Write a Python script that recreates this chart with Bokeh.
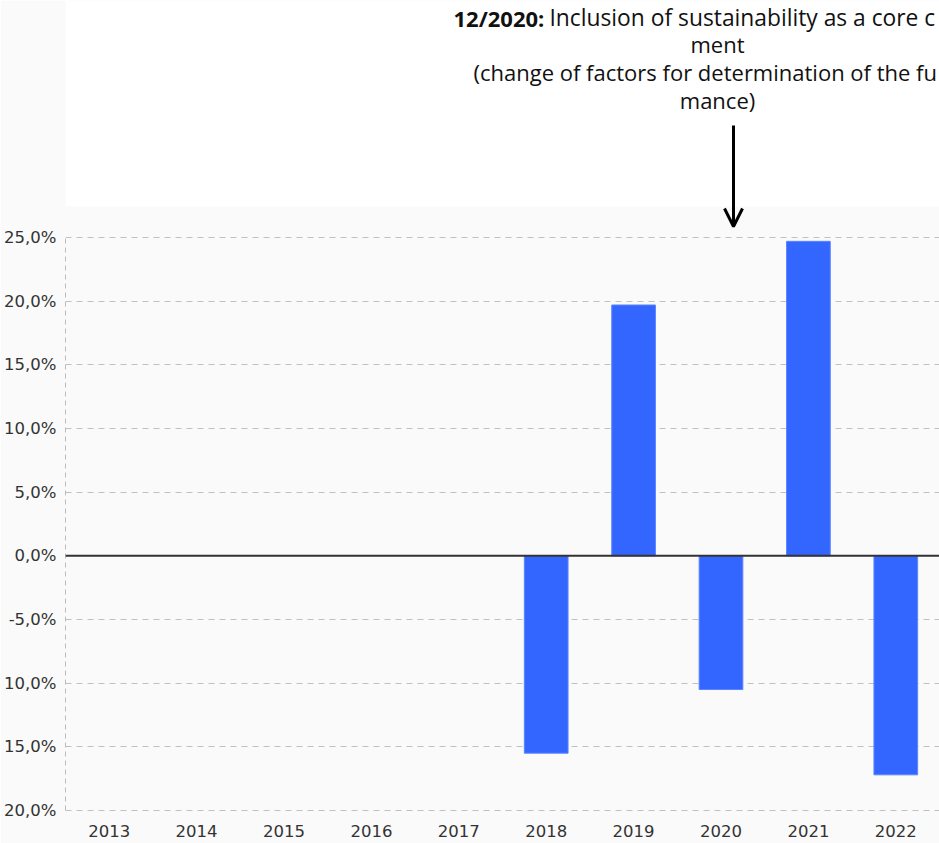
from bokeh.plotting import figure
from bokeh.models import Range1d, FixedTicker, Span, Label, Arrow, OpenHead, BoxAnnotation
from bokeh.embed import file_html
from bokeh.resources import INLINE

# ---- data ----
years = [2013, 2014, 2015, 2016, 2017, 2018, 2019, 2020, 2021, 2022]
year_labels = ["2013", "2014", "2015", "2016", "2017", "2018", "2019", "2020", "2021", "2022"]
bar_years = [2018, 2019, 2020, 2021, 2022]
bar_values = [-15.5, 19.7, -10.5, 24.7, -17.2]
y_ticks = [25, 20, 15, 10, 5, 0, -5, -10, -15, -20]
y_tick_labels = ["25,0%", "20,0%", "15,0%", "10,0%", "5,0%", "0,0%", "-5,0%", "10,0%", "15,0%", "20,0%"]

note_bold = "12/2020:"
note_line1 = "Inclusion of sustainability as a core c"
note_line2 = "ment"
note_line3 = "(change of factors for determination of the fu"
note_line4 = "mance)"

# ---- layout helpers (page pixel -> data) ----
PX_PER_PCT = 12.733
PX_PER_YEAR = 87.4
def yd(py):
    return 25 + (237 - py) / PX_PER_PCT
def xd(px):
    return 2012.5 + (px - 65) / PX_PER_YEAR

p = figure(width=939, height=843, output_backend="svg", toolbar_location=None,
           x_range=Range1d(2012.5, 2022.5), y_range=Range1d(yd(813), yd(0)),
           min_border_left=65, min_border_right=0, min_border_top=0, min_border_bottom=30)
p.outline_line_color = None
p.background_fill_color = "#fafafa"
p.border_fill_color = "#fafafa"

# white area above the chart panel
p.add_layout(BoxAnnotation(bottom=yd(206), fill_color="white", fill_alpha=1.0, line_color=None, level="underlay"))

p.vbar(x=bar_years, top=bar_values, bottom=0, width=0.5,
       fill_color="#3366ff", line_color="#5b84ff", line_width=1)

# axes
p.yaxis.ticker = FixedTicker(ticks=y_ticks)
p.yaxis.major_label_overrides = {t: l for t, l in zip(y_ticks, y_tick_labels)}
p.yaxis.bounds = (-20, 25)
p.yaxis.axis_line_color = "#bbbbbb"
p.yaxis.axis_line_dash = "5 4"
p.yaxis.major_tick_line_color = None
p.yaxis.minor_tick_line_color = None
p.yaxis.major_label_standoff = 3
p.yaxis.major_label_text_font = "DejaVu Sans"
p.yaxis.major_label_text_font_size = "16.5px"
p.yaxis.major_label_text_color = "#333333"

p.xaxis.ticker = FixedTicker(ticks=years)
p.xaxis.major_label_overrides = {y: l for y, l in zip(years, year_labels)}
p.xaxis.axis_line_color = None
p.xaxis.major_tick_line_color = None
p.xaxis.minor_tick_line_color = None
p.xaxis.major_label_standoff = 5
p.xaxis.major_label_text_font = "DejaVu Sans"
p.xaxis.major_label_text_font_size = "16.5px"
p.xaxis.major_label_text_color = "#333333"

p.xgrid.grid_line_color = None
p.ygrid.grid_line_color = "#c0c0c0"
p.ygrid.grid_line_dash = "6 5"
p.ygrid.grid_line_width = 1

p.add_layout(Span(location=0, dimension="width", line_color="#333333", line_width=2))

# annotation
fnt = "Open Sans"
fs = "22px"
p.add_layout(Label(x=xd(453), y=yd(17), text=note_bold, text_font=fnt, text_font_size=fs,
                   text_font_style="bold", text_color="#111111", text_baseline="middle", text_align="left"))
p.add_layout(Label(x=xd(549), y=yd(17), text=note_line1, text_font=fnt, text_font_size="22.8px",
                   text_color="#111111", text_baseline="middle", text_align="left"))
p.add_layout(Label(x=xd(717), y=yd(43), text=note_line2, text_font=fnt, text_font_size=fs,
                   text_color="#111111", text_baseline="middle", text_align="center"))
p.add_layout(Label(x=xd(473), y=yd(71), text=note_line3, text_font=fnt, text_font_size=fs,
                   text_color="#111111", text_baseline="middle", text_align="left"))
p.add_layout(Label(x=xd(717), y=yd(99), text=note_line4, text_font=fnt, text_font_size=fs,
                   text_color="#111111", text_baseline="middle", text_align="center"))

p.add_layout(Arrow(end=OpenHead(size=18, line_width=3, line_color="black"),
                   x_start=xd(733), y_start=yd(125), x_end=xd(733), y_end=yd(226),
                   line_width=3, line_color="black"))

open("out.html", "w").write(file_html(p, INLINE))
